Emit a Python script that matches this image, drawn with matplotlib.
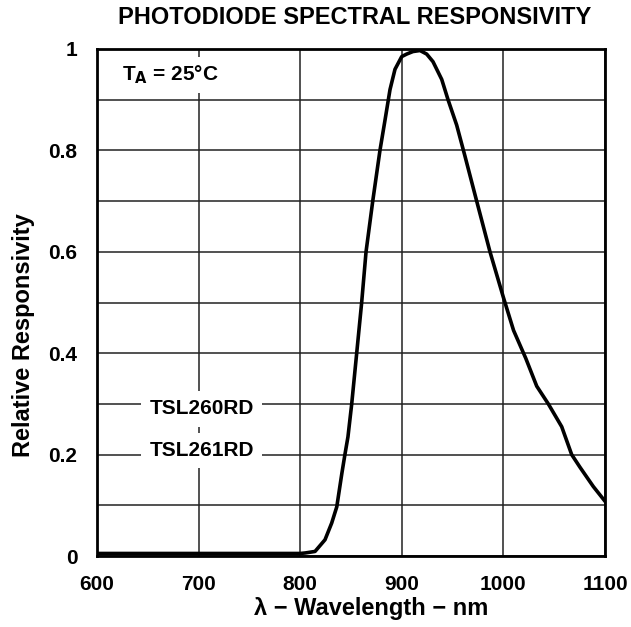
import matplotlib
matplotlib.use("Agg")
import matplotlib.pyplot as plt

wavelength = [600, 700, 800, 805, 814.6, 824.4, 831, 836, 841, 844, 847, 850.7, 855.6, 860.5,
              864.8, 871.4, 878.5, 883.5, 888.4, 893.3, 899.9, 904.8, 911, 917.9, 924.5,
              930.7, 939.3, 945.5, 954, 962, 973.7, 986.8, 1000, 1010, 1022, 1032.8,
              1044.2, 1057.4, 1067.2, 1075.4, 1088.5, 1100]
responsivity = [0.005, 0.005, 0.005, 0.006, 0.009, 0.032, 0.065, 0.097, 0.163, 0.2, 0.235, 0.3,
                0.4, 0.5, 0.6, 0.7, 0.8, 0.86, 0.92, 0.96, 0.985, 0.99, 0.995, 0.997, 0.99,
                0.975, 0.94, 0.90, 0.85, 0.79, 0.7, 0.6, 0.51, 0.445, 0.39, 0.335, 0.3,
                0.255, 0.2, 0.175, 0.137, 0.108]
x_ticks = [600, 700, 800, 900, 1000, 1100]
y_ticks = [0, 0.2, 0.4, 0.6, 0.8, 1]
y_tick_labels = ["0", "0.2", "0.4", "0.6", "0.8", "1"]
device_labels = ["TSL260RD", "TSL261RD"]

plt.rcParams['font.family'] = ['Liberation Sans', 'DejaVu Sans']
plt.rcParams['font.weight'] = 'bold'

fig = plt.figure(figsize=(6.31, 6.27), dpi=100)
ax = fig.add_axes([97/631, 1 - 556/627, (605-97)/631, (556-49)/627])

ax.set_xlim(600, 1100)
ax.set_ylim(0, 1)
ax.set_xticks(x_ticks)
ax.set_yticks(y_ticks)
ax.set_yticklabels(y_tick_labels)
ax.set_yticks([i/10 for i in range(11)], minor=True)
ax.tick_params(which='both', length=0, labelsize=15)
ax.tick_params(axis='x', pad=14)
ax.tick_params(axis='y', pad=14)
for lab in ax.get_xticklabels() + ax.get_yticklabels():
    lab.set_fontweight('bold')
ax.grid(True, which='both', color='#222222', linewidth=1.1)
ax.set_axisbelow(True)
for s in ax.spines.values():
    s.set_linewidth(2.0)

ax.plot(wavelength, responsivity, color='black', linewidth=2.6, zorder=3,
        solid_joinstyle='round')

bbox = dict(facecolor='white', edgecolor='none', pad=6)
ax.text(703, 0.29, device_labels[0], ha='center', va='center', fontsize=15,
        fontweight='bold', bbox=bbox, zorder=4)
ax.text(703, 0.208, device_labels[1], ha='center', va='center', fontsize=15,
        fontweight='bold', bbox=bbox, zorder=4)
ax.text(625, 0.949, r"T$_\mathbf{A}$ = 25°C", ha='left', va='center', fontsize=15,
        fontweight='bold', bbox=dict(facecolor='white', edgecolor='none', pad=5), zorder=4)

fig.text(355/631, 1 - 18/627, "PHOTODIODE SPECTRAL RESPONSIVITY", fontsize=17,
         fontweight='bold', ha='center', va='center')
ax.set_xlabel("λ − Wavelength − nm", fontsize=17, fontweight='bold')
ax.set_ylabel("Relative Responsivity", fontsize=17, fontweight='bold')
ax.xaxis.set_label_coords((371-97)/508, (556-597)/507)
ax.yaxis.set_label_coords((35-97)/508, (556-335)/507)

fig.savefig("out.png", dpi=100)
